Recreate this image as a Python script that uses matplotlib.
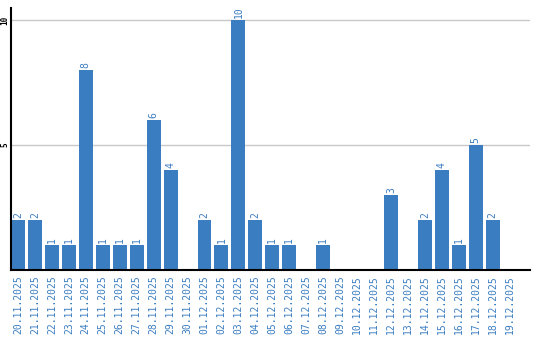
import matplotlib
matplotlib.use("Agg")
import matplotlib.pyplot as plt

dates = [
    "20.11.2025", "21.11.2025", "22.11.2025", "23.11.2025", "24.11.2025",
    "25.11.2025", "26.11.2025", "27.11.2025", "28.11.2025", "29.11.2025",
    "30.11.2025", "01.12.2025", "02.12.2025", "03.12.2025", "04.12.2025",
    "05.12.2025", "06.12.2025", "07.12.2025", "08.12.2025", "09.12.2025",
    "10.12.2025", "11.12.2025", "12.12.2025", "13.12.2025", "14.12.2025",
    "15.12.2025", "16.12.2025", "17.12.2025", "18.12.2025", "19.12.2025",
]
counts = [2, 2, 1, 1, 8, 1, 1, 1, 6, 4, 0, 2, 1, 10, 2, 1, 1, 0, 1, 0,
          0, 0, 3, 0, 2, 4, 1, 5, 2, 0]
y_ticks = [5, 10]

blue = "#3b7dc1"
mono = "DejaVu Sans Mono"

fig = plt.figure(figsize=(5.4, 3.4), dpi=100)
ax = fig.add_axes([11 / 540, 70 / 340, 519 / 540, 262 / 340])

x = list(range(len(dates)))
ax.bar(x, counts, width=0.82, color=blue, zorder=2)
for xi, c in zip(x, counts):
    if c > 0:
        ax.text(xi, c + 0.08, str(c), rotation=90, ha="center", va="bottom",
                fontsize=7, color=blue, family=mono)

ax.set_xlim(-0.41, 30.2)
ax.set_ylim(0, 10.48)
ax.set_yticks(y_ticks)
ax.set_yticklabels([str(v) for v in y_ticks], rotation=90, va="center",
                   fontsize=5.5, family=mono, fontweight="bold")
ax.yaxis.grid(True, color="#c8c8c8", linewidth=1, zorder=0)
ax.set_xticks(x)
ax.set_xticklabels(dates, rotation=90, fontsize=7, color=blue, family=mono)
ax.tick_params(axis="x", length=0, pad=4)
ax.tick_params(axis="y", length=0, pad=1)
for side in ("top", "right"):
    ax.spines[side].set_visible(False)
ax.spines["left"].set_linewidth(1.5)
ax.spines["bottom"].set_linewidth(1.5)

fig.savefig("out.png", dpi=100)
